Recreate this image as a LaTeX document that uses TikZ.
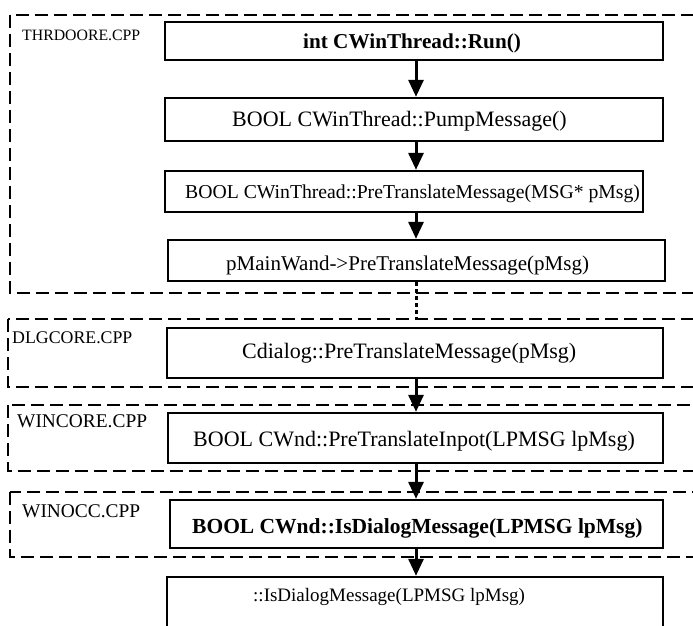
\documentclass[tikz,border=0pt]{standalone}
\usepackage{fontspec}
\setmainfont{Liberation Serif}
\usetikzlibrary{arrows.meta,positioning}
\newcommand{\tsize}[1]{\fontsize{#1}{#1}\selectfont}

\begin{document}
\begin{tikzpicture}[x=1pt,y=-1pt,
  box/.style={draw,line width=2.4pt,inner sep=0pt},
  txt/.style={anchor=base west,inner sep=0pt},
  grp/.style={line width=2.7pt,dash pattern=on 13pt off 6pt},
  call/.style={line width=3pt,-{Triangle[width=15pt,length=17pt]}},
  jump/.style={line width=3pt,dash pattern=on 4pt off 3pt}]
  \useasboundingbox (0,0) rectangle (693,625);
  \clip (0,0) rectangle (693,625);

  % source files
  \draw[grp] (10,15) rectangle (720,293);
  \draw[grp] (8,319) rectangle (720,387);
  \draw[grp] (8,405) rectangle (720,471);
  \draw[grp] (10,492) rectangle (720,557);
  \node[txt,font=\tsize{15.8}] (thrd) at (22,40) {THRDOORE.CPP};
  \node[txt,font=\tsize{17.8}] (dlgc) at (12,343) {DLGCORE.CPP};
  \node[txt,font=\tsize{19.4}] (winc) at (17,427) {WINCORE.CPP};
  \node[txt,font=\tsize{19.4}] (wino) at (22,517) {WINOCC.CPP};

  % call boxes
  \node[box,minimum width=498pt,minimum height=38pt] (run) at (414,41) {};
  \node[box,minimum width=498pt,minimum height=43pt] (pump) at (414,119.5) {};
  \node[box,minimum width=478pt,minimum height=41pt] (pretr) at (404,191.5) {};
  \node[box,minimum width=497pt,minimum height=41pt] (mainwnd) at (416.5,260.5) {};
  \node[box,minimum width=496pt,minimum height=50pt] (dlg) at (415,353) {};
  \node[box,minimum width=495pt,minimum height=50pt] (wndpre) at (415.5,438) {};
  \node[box,minimum width=493pt,minimum height=48pt] (wndisdlg) at (416.5,524) {};
  \node[box,minimum width=496pt,minimum height=63pt] (isdlg) at (415,608.5) {};

  % texts
  \node[txt,font=\bfseries\tsize{21.2}] (runtxt) at (303,48) {int CWinThread::Run()};
  \node[txt,font=\tsize{22}] (pumptxt) at (232,126) {BOOL CWinThread::PumpMessage()};
  \node[txt,font=\tsize{19.7}] (pretrtxt) at (185,198) {BOOL CWinThread::PreTranslateMessage(MSG* pMsg)};
  \node[txt,font=\tsize{21}] (mainwndtxt) at (226,270) {pMainWand->PreTranslateMessage(pMsg)};
  \node[txt,font=\tsize{22}] (dlgtxt) at (242,358) {Cdialog::PreTranslateMessage(pMsg)};
  \node[txt,font=\tsize{22}] (wndpretxt) at (193,446) {BOOL CWnd::PreTranslateInpot(LPMSG lpMsg)};
  \node[txt,font=\bfseries\tsize{21.5}] (wndisdlgtxt) at (192,533) {BOOL CWnd::IsDialogMessage(LPMSG lpMsg)};
  \node[txt,font=\tsize{19}] (isdlgtxt) at (253,601) {::IsDialogMessage(LPMSG lpMsg)};

  % calls
  \coordinate (ax) at (416,0);
  \coordinate (dlgtop) at (416,319);
  \draw[call] (run.south -| ax) -- (pump.north -| ax);
  \draw[call] (pump.south -| ax) -- (pretr.north -| ax);
  \draw[call] (pretr.south -| ax) -- (mainwnd.north -| ax);
  \draw[jump] (mainwnd.south -| ax) -- (dlgtop);
  \draw[call] (dlg.south -| ax) -- (wndpre.north -| ax);
  \draw[call] (wndpre.south -| ax) -- (wndisdlg.north -| ax);
  \draw[call] (wndisdlg.south -| ax) -- (isdlg.north -| ax);
\end{tikzpicture}
\end{document}
